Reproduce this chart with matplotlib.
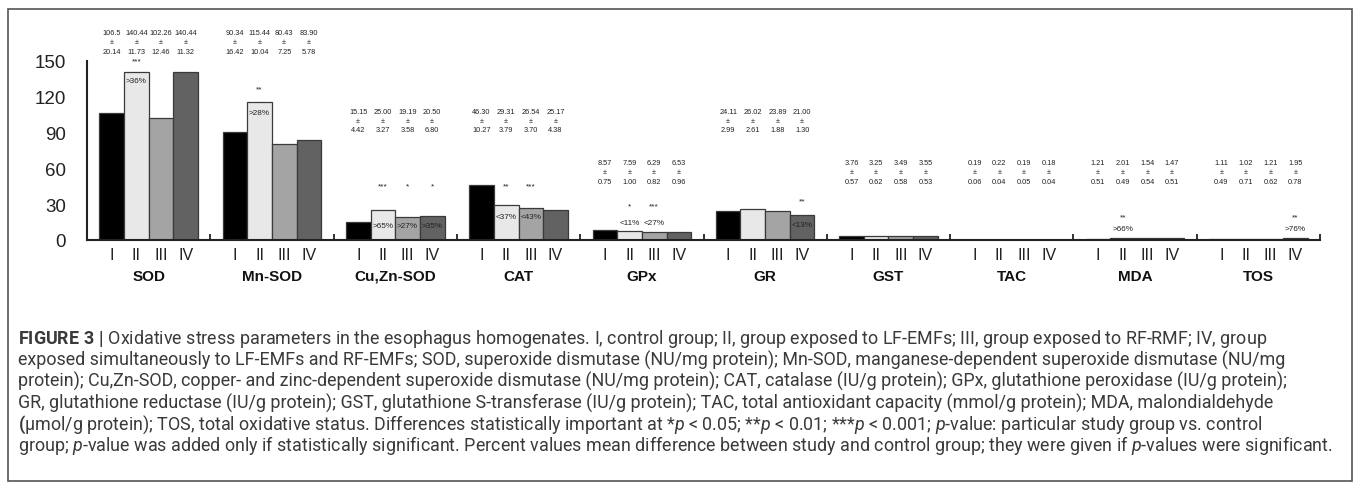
import numpy as np
import matplotlib.pyplot as plt
from matplotlib.patches import Rectangle

plt.rcParams['font.family'] = ['Liberation Sans', 'DejaVu Sans']
plt.rcParams['mathtext.fontset'] = 'custom'
plt.rcParams['mathtext.rm'] = 'Roboto'
plt.rcParams['mathtext.it'] = 'Roboto:italic'
plt.rcParams['mathtext.bf'] = 'Roboto:bold'

# Data
groups = ['SOD', 'Mn-SOD', 'Cu,Zn-SOD', 'CAT', 'GPx', 'GR', 'GST', 'TAC', 'MDA', 'TOS']
bar_names = ['I', 'II', 'III', 'IV']
mean_txt = [['106.5', '140.44', '102.26', '140.44'],
            ['90.34', '115.44', '80.43', '83.90'],
            ['15.15', '25.00', '19.19', '20.50'],
            ['46.30', '29.31', '26.54', '25.17'],
            ['8.57', '7.59', '6.29', '6.53'],
            ['24.11', '26.02', '23.89', '21.00'],
            ['3.76', '3.25', '3.49', '3.55'],
            ['0.19', '0.22', '0.19', '0.18'],
            ['1.21', '2.01', '1.54', '1.47'],
            ['1.11', '1.02', '1.21', '1.95']]
sd_txt = [['20.14', '11.73', '12.46', '11.32'],
          ['16.42', '10.04', '7.25', '5.78'],
          ['4.42', '3.27', '3.58', '6.80'],
          ['10.27', '3.79', '3.70', '4.38'],
          ['0.75', '1.00', '0.82', '0.96'],
          ['2.99', '2.61', '1.88', '1.30'],
          ['0.57', '0.62', '0.58', '0.53'],
          ['0.06', '0.04', '0.05', '0.04'],
          ['0.51', '0.49', '0.54', '0.51'],
          ['0.49', '0.71', '0.62', '0.78']]

# significant differences: group index, bar index, stars, percent
sig_group = [0, 1, 2, 2, 2, 3, 3, 4, 4, 5, 8, 9]
sig_bar = [1, 1, 1, 2, 3, 1, 2, 1, 2, 3, 1, 3]
sig_stars = ['***', '**', '***', '*', '*', '**', '***', '*', '***', '**', '**', '**']
sig_pct = ['>36%', '>28%', '>65%', '>27%', '>35%', '<37%', '<43%', '<11%', '<27%', '<13%', '>66%', '>76%']

# layout of the annotations (data units)
label_mid = [166, 166, 100, 100, 57, 100, 57, 57, 57, 57]
star_y = [150, 127, 45.5, 45.5, 45.5, 45.5, 45.5, 28.5, 28.5, 32.7, 19.3, 19.3]
pct_y = [134, 107, 12, 12, 12, 20, 20, 15, 15, 13.4, 10, 10]

means = np.array(mean_txt, dtype=float)
colors = ['#000000', '#e8e8e8', '#a4a4a4', '#626262']
offsets = np.array([-0.3, -0.1, 0.1, 0.3])
width = 0.2
x = np.arange(len(groups))

fig = plt.figure(figsize=(13.57, 4.85), dpi=100)
W, H = 1357, 485
ax = fig.add_axes([87 / W, 1 - 241 / H, (1320 - 87) / W, (241 - 62) / H])

for j in range(4):
    ax.bar(x + offsets[j], means[:, j], width=width, color=colors[j],
           edgecolor='#3a3a3a', linewidth=0.9, zorder=2)

ax.set_xlim(-0.5, len(groups) - 0.5)
ax.set_ylim(0, 150)
ax.set_yticks(np.arange(0, 151, 30))
ax.tick_params(axis='y', length=0, pad=15, labelsize=13.5, labelcolor='#222222')

pos = (x[:, None] + offsets[None, :]).ravel()
ax.set_xticks(pos, bar_names * len(groups))
ax.tick_params(axis='x', which='major', length=0, pad=5, labelsize=11.5, labelcolor='#222222')
ax.set_xticks(np.arange(0.5, len(groups), 1.0), minor=True)
ax.tick_params(axis='x', which='minor', direction='in', length=4, width=1.3, color='#222222')

for s in ['top', 'right']:
    ax.spines[s].set_visible(False)
for s in ['left', 'bottom']:
    ax.spines[s].set_linewidth(1.5)
    ax.spines[s].set_color('#222222')

# group names
for i, g in enumerate(groups):
    ax.text(x[i], -0.2, g, transform=ax.get_xaxis_transform(), ha='center', va='center',
            fontsize=11, fontweight='bold', color='#111111')

# mean +- sd stacks
for i in range(len(groups)):
    for j in range(4):
        ax.text(x[i] + offsets[j], label_mid[i], mean_txt[i][j] + '\n\u00b1\n' + sd_txt[i][j],
                ha='center', va='center', fontsize=5.3, linespacing=1.45, color='#222222')

# significance marks
for k in range(len(sig_group)):
    xx = x[sig_group[k]] + offsets[sig_bar[k]]
    ax.text(xx, star_y[k], sig_stars[k], ha='center', va='center', fontsize=6, color='#222222')
    ax.text(xx, pct_y[k], sig_pct[k], ha='center', va='center', fontsize=5.9, color='#222222')

# frame
fig.patches.append(Rectangle((8 / W, 1 - 482 / H), 1344 / W, 472 / H, transform=fig.transFigure,
                             fill=False, edgecolor='#555555', linewidth=1.2))

caption = [
    r'$\mathbf{FIGURE\ 3\ |}$ Oxidative stress parameters in the esophagus homogenates. I, control group; II, group exposed to LF-EMFs; III, group exposed to RF-RMF; IV, group',
    'exposed simultaneously to LF-EMFs and RF-EMFs; SOD, superoxide dismutase (NU/mg protein); Mn-SOD, manganese-dependent superoxide dismutase (NU/mg',
    'protein); Cu,Zn-SOD, copper- and zinc-dependent superoxide dismutase (NU/mg protein); CAT, catalase (IU/g protein); GPx, glutathione peroxidase (IU/g protein);',
    'GR, glutathione reductase (IU/g protein); GST, glutathione S-transferase (IU/g protein); TAC, total antioxidant capacity (mmol/g protein); MDA, malondialdehyde',
    r'$\mathbf{(}$' + '\u03bcmol/g protein); TOS, total oxidative status. Differences statistically important at *$p$ < 0.05; **$p$ < 0.01; ***$p$ < 0.001; $p$-value: particular study group vs. control',
    r'group; $p$-value was added only if statistically significant. Percent values mean difference between study and control group; they were given if $p$-values were significant.',
]

texts = []
for i, line in enumerate(caption):
    t = fig.text(18 / W, 1 - (344 + 21.5 * i) / H, line, fontsize=11, color='#3a3a3a',
                 family=['Roboto', 'DejaVu Sans'], ha='left', va='baseline')
    texts.append(t)

renderer = fig.canvas.get_renderer()
w6 = texts[-1].get_window_extent(renderer).width
scale = (1335 - 18) / w6
for t in texts:
    t.set_fontsize(11 * scale)

fig.savefig('out.png', dpi=100, facecolor='white')
